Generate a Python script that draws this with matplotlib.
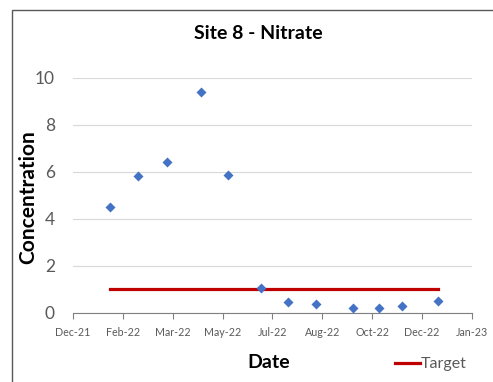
import matplotlib
matplotlib.use("Agg")
import matplotlib.pyplot as plt
import matplotlib.dates as mdates
from matplotlib.lines import Line2D
from matplotlib.patches import Rectangle
import numpy as np
import datetime as dt

# sample dates and nitrate concentrations
dates = [dt.date(2022, 1, 22), dt.date(2022, 2, 19), dt.date(2022, 3, 20),
         dt.date(2022, 4, 23), dt.date(2022, 5, 20), dt.date(2022, 6, 23),
         dt.date(2022, 7, 20), dt.date(2022, 8, 17), dt.date(2022, 9, 23),
         dt.date(2022, 10, 19), dt.date(2022, 11, 11), dt.date(2022, 12, 17)]
nitrate = [4.5, 5.83, 6.4, 9.38, 5.88, 1.06, 0.44, 0.39, 0.18, 0.22, 0.27, 0.5]
target = 1.0

axis_start = dt.date(2021, 12, 16)
tick_step = 50  # days between x ticks
n_ticks = 9

plt.rcParams['font.family'] = ['Lato', 'DejaVu Sans']

fig = plt.figure(figsize=(4.93, 3.82), dpi=100)
ax = fig.add_axes([0.148, 0.1814, 0.809, 0.6152])

ax.scatter(dates, nitrate, marker='D', s=26, color='#4472C4', zorder=3, linewidths=0)
ax.plot([dates[0], dates[-1]], [target, target], color='#C00000', lw=2.3, zorder=2)

ticks = [axis_start + dt.timedelta(days=tick_step * i) for i in range(n_ticks)]
ax.set_xlim(ticks[0], ticks[-1])
ax.set_xticks(ticks)
ax.xaxis.set_major_formatter(mdates.DateFormatter('%b-%y'))
ax.set_ylim(0, 10)
ax.set_yticks([0, 2, 4, 6, 8, 10])

ax.tick_params(axis='x', labelsize=7.7, colors='#595959', length=4, width=0.8,
               direction='out', pad=6)
ax.tick_params(axis='x', color='#808080')
ax.tick_params(axis='y', labelsize=12.5, colors='#595959', length=0, pad=13)
ax.grid(axis='y', color='#D9D9D9', lw=0.8)
ax.set_axisbelow(True)
for s in ['top', 'right', 'left']:
    ax.spines[s].set_visible(False)
ax.spines['bottom'].set_color('#808080')
ax.spines['bottom'].set_linewidth(0.8)

fig.text(0.523, 0.913, 'Site 8 - Nitrate', ha='center', va='center',
         fontsize=14, fontweight='bold')
fig.text(0.058, 0.483, 'Concentration', ha='center', va='center', rotation=90,
         fontsize=15, fontweight='bold')
fig.text(0.545, 0.05, 'Date', ha='center', va='center',
         fontsize=14, fontweight='bold')

fig.lines.append(Line2D([0.801, 0.852], [0.050, 0.050], color='#C00000', lw=2.3,
                        transform=fig.transFigure))
fig.text(0.854, 0.048, 'Target', ha='left', va='center', fontsize=11.5, color='#595959')

fig.patches.append(Rectangle((0.024, -0.1), 1.2, 1.074, transform=fig.transFigure,
                             fill=False, edgecolor='#595959', lw=1.0))

fig.savefig('out.png', dpi=100)
